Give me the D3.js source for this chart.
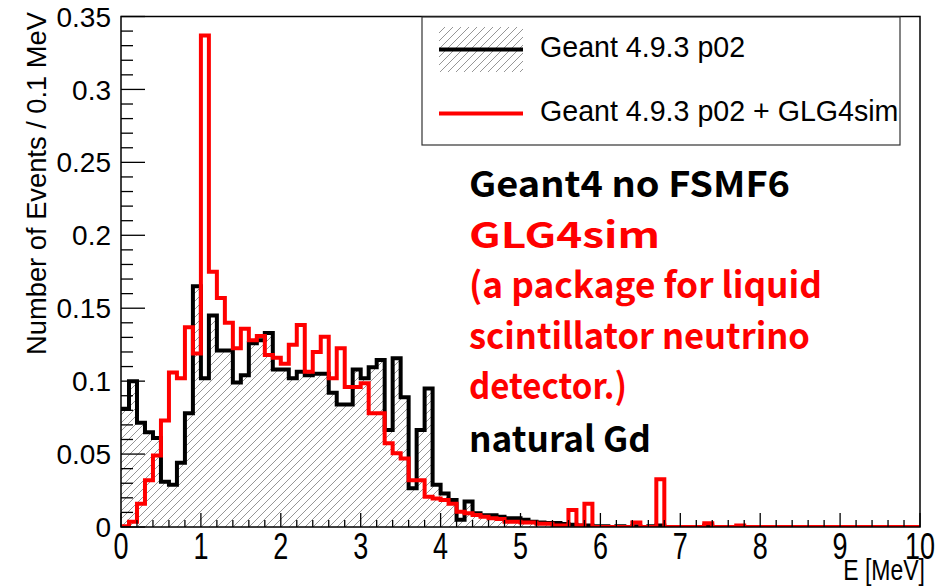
<!DOCTYPE html>
<html><head><meta charset="utf-8">
<script src="https://cdn.jsdelivr.net/npm/d3@7"></script>
<style>body{margin:0;background:#fff;overflow:hidden}</style>
</head><body>
<script>
// ---- data ----
const binWidth = 0.1; // MeV
const geantValues = [
 0.081,0.100,0.0715,0.065,0.061,0.031,0.029,0.044,0.078,0.165,
 0.102,0.145,0.121,0.121,0.099,0.104,0.126,0.128,0.133,0.108,
 0.108,0.102,0.1065,0.104,0.105,0.105,0.092,0.084,0.084,0.108,
 0.102,0.1095,0.1145,0.0665,0.1157,0.089,0.0265,0.0665,0.095,0.029,
 0.023,0.0185,0.005,0.0174,0.0094,0.008,0.008,0.007,0.006,0.006,
 0.005,0.0036,0.003,0.0027,0.0027,0.002,0.0015,0.001,0.001,0.0005,
 0.0005,0,0.0005,0,0.0005,0,0.0005,0.001,0,0,
 0,0,0,0.001,0,0,0,0,0,0,
 0,0,0,0,0,0,0,0,0,0,
 0,0,0,0,0,0,0,0,0,0];
const glgValues = [
 0.0005,0.0036,0.016,0.032,0.049,0.073,0.106,0.102,0.137,0.119,
 0.337,0.175,0.157,0.140,0.1225,0.136,0.128,0.131,0.118,0.116,
 0.112,0.125,0.1385,0.1065,0.120,0.1305,0.102,0.1225,0.096,0.096,
 0.0985,0.078,0.078,0.0574,0.0505,0.047,0.032,0.032,0.0208,0.0195,
 0.0185,0.016,0.0105,0.0094,0.0082,0.007,0.006,0.0055,0.0036,0.0036,
 0.003,0.003,0.0023,0.0023,0.001,0.001,0.0117,0.001,0.016,0,
 0,0,0,0,0.003,0,0,0.0327,0,0,
 0,0,0,0.0025,0,0,0,0.001,0,0,
 0,0,0,0,0,0,0,0,0,0,
 0,0,0,0,0,0,0,0,0,0];
const xTickValues = [0,1,2,3,4,5,6,7,8,9,10];
const yTickValues = [0,0.05,0.1,0.15,0.2,0.25,0.3,0.35];
const yTickLabels = ["0","0.05","0.1","0.15","0.2","0.25","0.3","0.35"];
const legendLabels = ["Geant 4.9.3 p02","Geant 4.9.3 p02 + GLG4sim"];
const noteTexts = ["Geant4 no FSMF6","GLG4sim","(a package for liquid","scintillator neutrino","detector.)","natural Gd"];
const noteColors = ["#000","#ff0000","#ff0000","#ff0000","#ff0000","#000"];
// rendered widths of the note lines (px), to mimic the wider original typeface
const noteWidths = [321,191,353,341,158,182];

// ---- layout ----
const W = 943, H = 587;
const L = 121, R = 920, T = 16.5, B = 527;
const svg = d3.select("body").append("svg").attr("width",W).attr("height",H)
  .style("font-family","'Liberation Sans', Arial, sans-serif");

const x = d3.scaleLinear().domain([0,10]).range([L,R]);
const y = d3.scaleLinear().domain([0,0.35]).range([B,T]);

const defs = svg.append("defs");
const pat = defs.append("pattern").attr("id","hatch").attr("patternUnits","userSpaceOnUse")
  .attr("width",8).attr("height",8);
pat.append("path").attr("d","M-1,9 L9,-1 M-1,1 L1,-1 M7,9 L9,7")
  .attr("stroke","#8a8a8a").attr("stroke-width",0.9).attr("fill","none");
defs.append("clipPath").attr("id","plotclip").append("rect")
  .attr("x",L).attr("y",T).attr("width",R-L).attr("height",B-T);

function toSteps(vals){
  const pts = vals.map((v,i)=>[i*binWidth, v]);
  pts.push([vals.length*binWidth, vals[vals.length-1]]);
  return pts;
}
const g = svg.append("g").attr("clip-path","url(#plotclip)");
const area = d3.area().curve(d3.curveStepAfter).x(d=>x(d[0])).y0(y(0)).y1(d=>y(d[1]));
const line = d3.line().curve(d3.curveStepAfter).x(d=>x(d[0])).y(d=>y(d[1]));

g.append("path").attr("d",area(toSteps(geantValues))).attr("fill","url(#hatch)");
g.append("path").attr("d",line(toSteps(geantValues))).attr("fill","none")
  .attr("stroke","#000").attr("stroke-width",4).attr("stroke-linejoin","miter");
g.append("path").attr("d",line(toSteps(glgValues))).attr("fill","none")
  .attr("stroke","#ff0000").attr("stroke-width",4).attr("stroke-linejoin","miter");

// frame
svg.append("rect").attr("x",L).attr("y",T).attr("width",R-L).attr("height",B-T)
  .attr("fill","none").attr("stroke","#000").attr("stroke-width",1.5);

// y axis ticks (inside)
const yMinor = d3.range(0,0.3501,0.01);
svg.append("g").selectAll("line").data(yMinor).join("line")
  .attr("x1",L).attr("x2",(d,i)=> i%5===0 ? L+24 : L+12)
  .attr("y1",d=>y(d)).attr("y2",d=>y(d)).attr("stroke","#000").attr("stroke-width",1.3);
svg.append("g").selectAll("text").data(yTickValues).join("text")
  .attr("x",L-10).attr("y",d=>y(d)).attr("dy","0.36em").attr("text-anchor","end")
  .attr("font-size",28).text((d,i)=>yTickLabels[i]);

// x axis ticks (inside)
const xMinor = d3.range(0,10.001,0.2);
svg.append("g").selectAll("line").data(xMinor).join("line")
  .attr("x1",d=>x(d)).attr("x2",d=>x(d)).attr("y1",B)
  .attr("y2",(d,i)=> i%5===0 ? B-14 : B-7).attr("stroke","#000").attr("stroke-width",1.3);
svg.append("g").selectAll("text").data(xTickValues).join("text")
  .attr("transform",d=>`translate(${x(d)},532) scale(1,1.4)`)
  .attr("dy","0.72em").attr("text-anchor","middle")
  .attr("font-size",27).text(d=>d);
svg.append("text").attr("transform",`translate(${R+5},580) scale(1,1.3)`)
  .attr("text-anchor","end").attr("font-size",23).text("E [MeV]");

// y title
svg.append("text").attr("transform",`translate(46,12) rotate(-90)`)
  .attr("text-anchor","end").attr("font-size",27.3).text("Number of Events / 0.1 MeV");

// legend
const lg = svg.append("g");
lg.append("rect").attr("x",422).attr("y",17).attr("width",478).attr("height",128)
  .attr("fill","#fff").attr("stroke","#333").attr("stroke-width",1.2);
lg.append("rect").attr("x",439).attr("y",27).attr("width",84).attr("height",45).attr("fill","url(#hatch)");
lg.append("line").attr("x1",439).attr("x2",523).attr("y1",49.5).attr("y2",49.5).attr("stroke","#000").attr("stroke-width",4);
lg.append("line").attr("x1",439).attr("x2",523).attr("y1",113.5).attr("y2",113.5).attr("stroke","#ff0000").attr("stroke-width",4);
lg.selectAll("text.lt").data(legendLabels).join("text").attr("class","lt")
  .attr("x",540).attr("y",(d,i)=> i===0 ? 57 : 121).attr("font-size",28.6).text(d=>d);

// notes
svg.append("g").selectAll("text").data(noteTexts).join("text")
  .attr("x",469).attr("y",(d,i)=>197+i*50.5 + (i===5?2:0))
  .attr("font-family","'Noto Sans CJK JP','Noto Sans',sans-serif").attr("font-weight","bold")
  .attr("font-size",35.4).attr("fill",(d,i)=>noteColors[i])
  .attr("textLength",(d,i)=>noteWidths[i]).attr("lengthAdjust","spacingAndGlyphs")
  .text(d=>d);
</script>
</body></html>
